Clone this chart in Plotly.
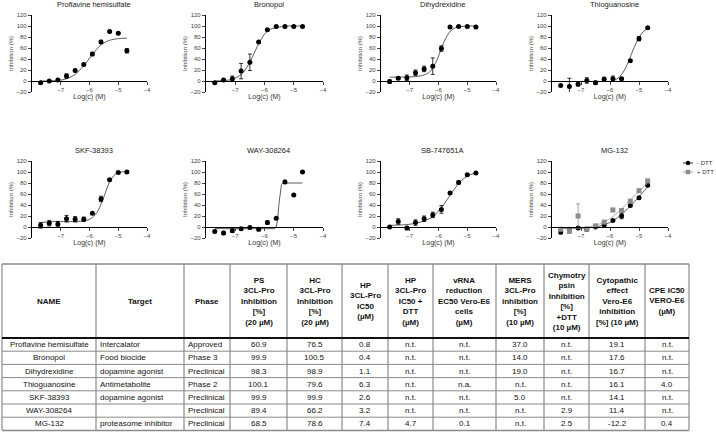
import plotly.graph_objects as go

# ---------------- data ----------------
LOGC = [-7.7, -7.4, -7.1, -6.8, -6.5, -6.2, -5.9, -5.6, -5.3, -5.0, -4.7]

TITLES = ["Proflavine hemisulfate", "Bronopol", "Dihydrexidine", "Thioguanosine",
          "SKF-38393", "WAY-308264", "SB-747651A", "MG-132"]

# measured points (mean inhibition %, error)
proflavine_y = [-3, 0, 2, 9, 19, 30, 49, 71, 90, 87, 55]
proflavine_e = [2, 1, 2, 4, 2, 2, 3, 3, 0, 0, 4]
bronopol_y = [-3, 2, 4, 18, 34, 71, 93, 99, 99, 99, 99]
bronopol_e = [0, 1, 5, 14, 15, 0, 0, 0, 0, 0, 0]
dihydrexidine_y = [-1, 5, 6, 15, 22, 27, 59, 98, 99, 99, 98]
dihydrexidine_e = [3, 2, 5, 5, 5, 15, 5, 0, 0, 0, 0]
thioguanosine_y = [-8, -10, -6, 1, -3, 3, 4, 4, 37, 77, 97]
thioguanosine_e = [0, 15, 3, 5, 3, 4, 5, 0, 2, 4, 0]
skf_y = [3, 7, 5, 15, 14, 14, 25, 51, 86, 99, 100]
skf_e = [5, 5, 5, 6, 5, 4, 0, 5, 2, 0, 0]
way_y = [-8, -11, -7, -3, -1, -4, 8, 16, 82, 58, 100]
way_e = [2, 3, 3, 2, 2, 3, 3, 0, 3, 0, 0]
sb_y = [0, 10, -2, 8, 15, 22, 32, 62, 81, 95, 98]
sb_e = [0, 5, 3, 5, 5, 5, 7, 0, 3, 0, 0]
mg_minus_y = [-9, -4, -2, -4, 0, 4, 12, 20, 39, 53, 76]
mg_minus_e = [4, 2, 2, 3, 1, 2, 1, 5, 2, 1, 2]
mg_plus_y = [-4, -8, 20, -4, 2, 9, 31, 30, 47, 66, 84]
mg_plus_e = [3, 2, 22, 3, 1, 2, 3, 3, 3, 2, 2]

POINTS_Y = [proflavine_y, bronopol_y, dihydrexidine_y, thioguanosine_y,
            skf_y, way_y, sb_y, mg_minus_y]
POINTS_E = [proflavine_e, bronopol_e, dihydrexidine_e, thioguanosine_e,
            skf_e, way_e, sb_e, mg_minus_e]

# fitted curves
proflavine_cx = [-7.7, -7.1, -6.8, -6.5, -6.2, -5.9, -5.6, -5.3, -5.0, -4.7]
proflavine_cy = [0, 1, 4, 12, 28, 48, 66, 74, 77, 78]
bronopol_cx = [-7.7, -7.1, -6.8, -6.6, -6.4, -6.2, -6.0, -5.8, -5.5, -5.2, -4.7]
bronopol_cy = [0, 3, 12, 25, 45, 68, 85, 94, 98, 100, 100]
dihydrexidine_cx = [-7.7, -6.8, -6.5, -6.3, -6.1, -5.95, -5.8, -5.6, -5.4, -5.0, -4.7]
dihydrexidine_cy = [7, 8, 11, 17, 33, 52, 72, 90, 97, 100, 100]
thioguanosine_cx = [-5.9, -5.7, -5.5, -5.35, -5.2, -5.05, -4.9, -4.7]
thioguanosine_cy = [0, 6, 20, 37, 57, 74, 87, 96]
skf_cx = [-7.7, -7.3, -6.5, -6.1, -5.9, -5.7, -5.5, -5.3, -5.1, -4.9, -4.7]
skf_cy = [8, 10, 10, 12, 17, 30, 55, 82, 96, 100, 101]
way_cx = [-7.7, -5.65, -5.6, -5.55, -5.5, -5.46, -5.42, -5.38, -4.7]
way_cy = [-3, -3, 0, 15, 45, 68, 77, 80, 80]
sb_cx = [-7.7, -7.0, -6.5, -6.2, -5.9, -5.7, -5.5, -5.3, -5.1, -4.9, -4.7]
sb_cy = [3, 5, 11, 19, 35, 50, 65, 79, 89, 95, 98]
mg_minus_cx = [-7.7, -7.0, -6.5, -6.2, -5.9, -5.6, -5.3, -5.0, -4.7]
mg_minus_cy = [-3, -2, 0, 4, 11, 23, 38, 55, 73]
mg_plus_cx = [-7.7, -7.0, -6.5, -6.2, -5.9, -5.6, -5.3, -5.0, -4.7]
mg_plus_cy = [-3, -1, 3, 9, 19, 33, 49, 65, 80]

CURVES_X = [proflavine_cx, bronopol_cx, dihydrexidine_cx, thioguanosine_cx,
            skf_cx, way_cx, sb_cx, mg_minus_cx]
CURVES_Y = [proflavine_cy, bronopol_cy, dihydrexidine_cy, thioguanosine_cy,
            skf_cy, way_cy, sb_cy, mg_minus_cy]

X_TICKS = [-7, -6, -5, -4]
Y_TICKS = [-20, 0, 20, 40, 60, 80, 100, 120]

LEGEND_NAMES = ["- DTT", "+ DTT"]
LEGEND_COLORS = ["black", "#8c8c8c"]
LEGEND_SYMBOLS = ["circle", "square"]

# table
HEADERS = ["<b>NAME</b>", "<b>Target</b>", "<b>Phase</b>",
           "<b>PS<br>3CL-Pro<br>Inhibition<br>[%]<br>(20 µM)</b>",
           "<b>HC<br>3CL-Pro<br>Inhibition<br>[%]<br>(20 µM)</b>",
           "<b>HP<br>3CL-Pro<br>IC50<br>(µM)</b>",
           "<b>HP<br>3CL-Pro<br>IC50 +<br>DTT<br>(µM)</b>",
           "<b>vRNA<br>reduction<br>EC50 Vero-E6<br>cells<br>(µM)</b>",
           "<b>MERS<br>3CL-Pro<br>inhibition<br>[%]<br>(10 µM)</b>",
           "<b>Chymotry<br>psin<br>Inhibition<br>[%]<br>+DTT<br>(10 µM)</b>",
           "<b>Cytopathic<br>effect<br>Vero-E6<br>inhibition<br>[%] (10 µM)</b>",
           "<b>CPE IC50<br>VERO-E6<br>(µM)</b>"]
NAMES = ["Proflavine hemisulfate", "Bronopol", "Dihydrexidine", "Thioguanosine",
         "SKF-38393", "WAY-308264", "MG-132"]
TARGETS = ["Intercalator", "Food biocide", "dopamine agonist", "Antimetabolite",
           "dopamine agonist", "", "proteasome inhibitor"]
PHASES = ["Approved", "Phase 3", "Preclinical", "Phase 2", "Preclinical",
          "Preclinical", "Preclinical"]
PS_INH = ["60.9", "99.9", "98.3", "100.1", "99.9", "89.4", "68.5"]
HC_INH = ["76.5", "100.5", "98.9", "79.6", "99.9", "66.2", "78.6"]
HP_IC50 = ["0.8", "0.4", "1.1", "6.3", "2.6", "3.2", "7.4"]
HP_IC50_DTT = ["n.t.", "n.t.", "n.t.", "n.t.", "n.t.", "n.t.", "4.7"]
VRNA_EC50 = ["n.t.", "n.t.", "n.t.", "n.a.", "n.t.", "n.t.", "0.1"]
MERS_INH = ["37.0", "14.0", "19.0", "n.t.", "5.0", "n.t.", "n.t."]
CHYMO_INH = ["n.t.", "n.t.", "n.t.", "n.t.", "n.t.", "2.9", "2.5"]
CPE_INH = ["19.1", "17.6", "16.7", "16.1", "14.1", "11.4", "-12.2"]
CPE_IC50 = ["n.t.", "n.t.", "n.t.", "4.0", "n.t.", "n.t.", "0.4"]
COLUMNS = [NAMES, TARGETS, PHASES, PS_INH, HC_INH, HP_IC50, HP_IC50_DTT,
           VRNA_EC50, MERS_INH, CHYMO_INH, CPE_INH, CPE_IC50]

# ---------------- layout geometry ----------------
W, H = 716, 435
def px(x):
    return x / W
def py(y):
    return 1 - y / H

COL_X_PX = [(32, 147), (206, 323), (381, 496), (552, 668)]
ROW_Y_PX = [(15, 92), (161, 238)]   # y=120 at top, y=-20 at bottom
TITLE_Y_PX = [5, 151]
YMIN, YMAX = -20, 120

FONT = "Liberation Sans, Arial, sans-serif"
fig = go.Figure()
layout = dict(width=W, height=H, margin=dict(l=0, r=0, t=0, b=0, pad=0, autoexpand=False),
              paper_bgcolor="white", plot_bgcolor="white",
              font=dict(family=FONT, color="#222"), showlegend=False)
annotations = []
shapes = []

for i in range(8):
    r, c = divmod(i, 4)
    n = i + 1
    xa = "x" if n == 1 else f"x{n}"
    ya = "y" if n == 1 else f"y{n}"
    x0, x1 = COL_X_PX[c]
    ytop, ybot = ROW_Y_PX[r]
    ydom = [py(ybot), py(ytop)]
    zero_pos = ydom[0] + (0 - YMIN) / (YMAX - YMIN) * (ydom[1] - ydom[0])

    layout["xaxis" if n == 1 else f"xaxis{n}"] = dict(
        domain=[px(x0), px(x1)], range=[-8, -4], anchor="free", position=zero_pos,
        tickvals=X_TICKS, ticks="outside", ticklen=3, tickwidth=1, automargin=False,
        showline=True, linecolor="black", linewidth=1.2, showgrid=False, zeroline=False,
        tickfont=dict(size=6, color="#444"),
        title=dict(text="Log(c) (M)", font=dict(size=7, color="#333"), standoff=1),
    )
    layout["yaxis" if n == 1 else f"yaxis{n}"] = dict(
        domain=ydom, range=[YMIN, YMAX], anchor=xa, tickvals=Y_TICKS, automargin=False,
        ticks="outside", ticklen=3, tickwidth=1, showline=True, linecolor="black",
        linewidth=1.2, showgrid=False, zeroline=False,
        tickfont=dict(size=6, color="#444"),
        title=dict(text="Inhibition (%)", font=dict(size=6, color="#444"), standoff=2),
    )
    annotations.append(dict(text=TITLES[i], x=px((x0 + x1) / 2 + 4), y=py(TITLE_Y_PX[r]),
                            xref="paper", yref="paper", xanchor="center", yanchor="middle",
                            showarrow=False, font=dict(size=7.5, color="#222")))

    fig.add_trace(go.Scatter(
        x=CURVES_X[i], y=CURVES_Y[i], mode="lines", xaxis=xa, yaxis=ya,
        line=dict(color="#333", width=0.8, shape="linear" if i == 5 else "spline",
                  smoothing=0.8),
        hoverinfo="skip"))
    fig.add_trace(go.Scatter(
        x=LOGC, y=POINTS_Y[i], mode="markers", xaxis=xa, yaxis=ya,
        marker=dict(color="black", size=5, symbol="circle"),
        error_y=dict(type="data", array=POINTS_E[i], color="black", thickness=0.8, width=2)))
    if i == 7:
        fig.add_trace(go.Scatter(
            x=mg_plus_cx, y=mg_plus_cy, mode="lines", xaxis=xa, yaxis=ya,
            line=dict(color="#999", width=0.8, shape="spline", smoothing=0.8),
            hoverinfo="skip"))
        fig.add_trace(go.Scatter(
            x=LOGC, y=mg_plus_y, mode="markers", xaxis=xa, yaxis=ya,
            marker=dict(color="#8c8c8c", size=5, symbol="square"),
            error_y=dict(type="data", array=mg_plus_e, color="#8c8c8c", thickness=0.8, width=2)))

# manual legend (key glyphs + labels)
LEG_X, LEG_Y0, LEG_DY = 688, 163, 9
for k, name in enumerate(LEGEND_NAMES):
    yy = LEG_Y0 + k * LEG_DY
    col = LEGEND_COLORS[k]
    shapes.append(dict(type="line", xref="paper", yref="paper",
                       x0=px(LEG_X - 5), x1=px(LEG_X + 5), y0=py(yy), y1=py(yy),
                       line=dict(color=col, width=0.8)))
    shapes.append(dict(type="circle" if LEGEND_SYMBOLS[k] == "circle" else "rect",
                       xref="paper", yref="paper",
                       x0=px(LEG_X - 2), x1=px(LEG_X + 2), y0=py(yy + 2), y1=py(yy - 2),
                       fillcolor=col, line=dict(color=col, width=0.5)))
    annotations.append(dict(text=name, x=px(LEG_X + 7), y=py(yy), xref="paper", yref="paper",
                            xanchor="left", yanchor="middle", showarrow=False,
                            font=dict(size=6, color="#333")))

# ---------------- table ----------------
COL_EDGES = [2, 96, 184, 230, 287, 342, 388, 433, 496, 544, 589, 645, 689]
TABLE_TOP, HEADER_BOTTOM, ROW_H = 264, 338, 13.2
nrows = len(NAMES)
table_bottom = HEADER_BOTTOM + ROW_H * nrows
LINE = "#8a8a8a"

for xe in COL_EDGES:
    shapes.append(dict(type="line", xref="paper", yref="paper",
                       x0=px(xe), x1=px(xe), y0=py(TABLE_TOP), y1=py(table_bottom),
                       line=dict(color=LINE, width=1.2)))
shapes.append(dict(type="line", xref="paper", yref="paper", x0=px(COL_EDGES[0]),
                   x1=px(COL_EDGES[-1]), y0=py(TABLE_TOP), y1=py(TABLE_TOP),
                   line=dict(color=LINE, width=1.5)))
shapes.append(dict(type="line", xref="paper", yref="paper", x0=px(COL_EDGES[0]),
                   x1=px(COL_EDGES[-1]), y0=py(HEADER_BOTTOM), y1=py(HEADER_BOTTOM),
                   line=dict(color="#111", width=2)))
for k in range(1, nrows + 1):
    yy = HEADER_BOTTOM + ROW_H * k
    shapes.append(dict(type="line", xref="paper", yref="paper", x0=px(COL_EDGES[0]),
                       x1=px(COL_EDGES[-1]), y0=py(yy), y1=py(yy),
                       line=dict(color=LINE, width=1.5 if k == nrows else 1)))

LEFT_ALIGNED = {1, 2}
for j, head in enumerate(HEADERS):
    cx = (COL_EDGES[j] + COL_EDGES[j + 1]) / 2
    annotations.append(dict(text=head, x=px(cx), y=py((TABLE_TOP + HEADER_BOTTOM) / 2),
                            xref="paper", yref="paper", xanchor="center", yanchor="middle",
                            showarrow=False, align="center",
                            font=dict(size=8, color="#111")))
    for k, val in enumerate(COLUMNS[j]):
        if val == "":
            continue
        ycen = HEADER_BOTTOM + ROW_H * (k + 0.5)
        if j in LEFT_ALIGNED:
            annotations.append(dict(text=val, x=px(COL_EDGES[j] + 2), y=py(ycen),
                                    xref="paper", yref="paper", xanchor="left",
                                    yanchor="middle", showarrow=False,
                                    font=dict(size=8, color="#111")))
        else:
            annotations.append(dict(text=val, x=px(cx), y=py(ycen),
                                    xref="paper", yref="paper", xanchor="center",
                                    yanchor="middle", showarrow=False,
                                    font=dict(size=8, color="#111")))

layout["annotations"] = annotations
layout["shapes"] = shapes
fig.update_layout(**layout)
fig.write_html("out.html", config={"displayModeBar": False},
               post_script="document.body.style.margin='0';document.body.style.padding='0';")
